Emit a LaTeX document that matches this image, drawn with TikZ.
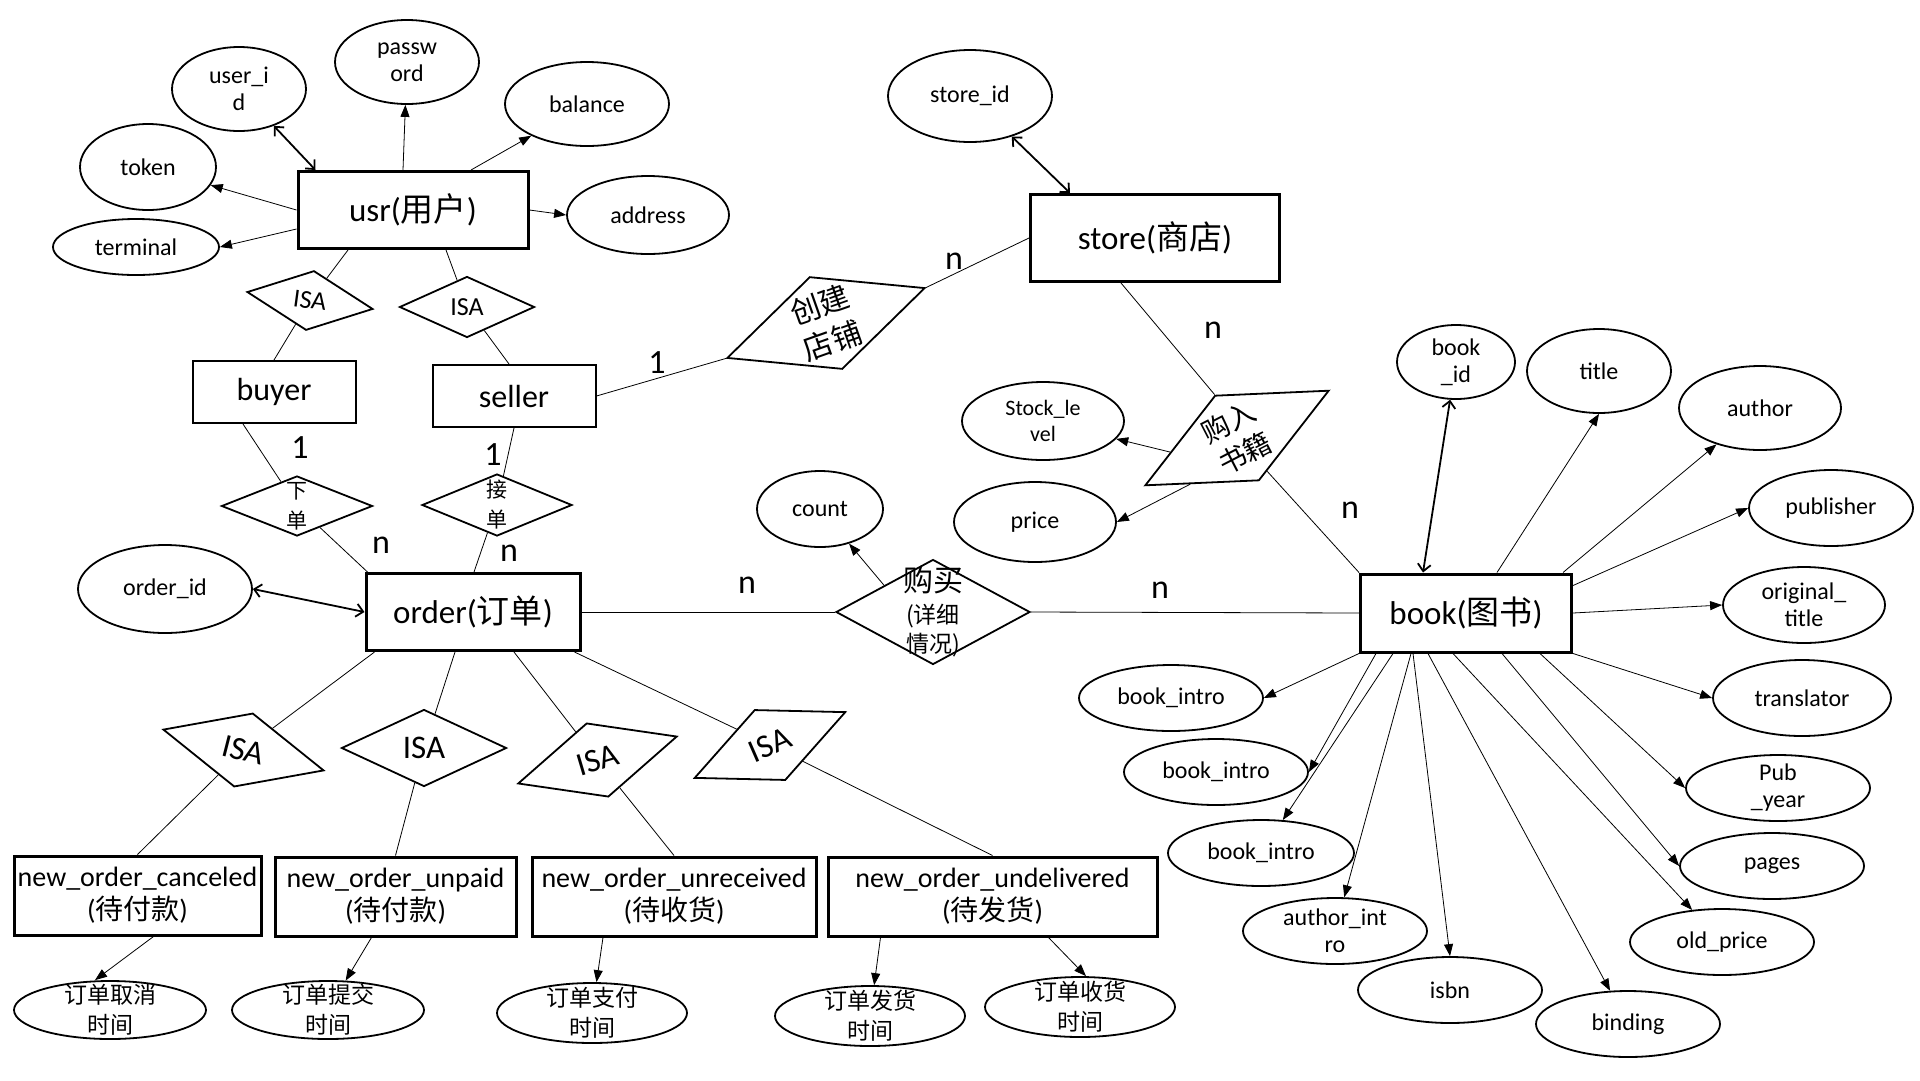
\documentclass[tikz,border=0pt]{standalone}
\usepackage{fontspec}
\setmainfont{Carlito}
\newfontfamily\cjk{Noto Sans CJK SC}
\usetikzlibrary{arrows.meta, shapes.geometric, calc}

\begin{document}
\begin{tikzpicture}[x=1pt, y=-1pt,
  entity/.style={draw, line width=3pt, inner sep=0pt, font=\fontsize{33}{36}\selectfont},
  weakent/.style={draw, line width=2pt, inner sep=0pt, font=\fontsize{32}{36}\selectfont},
  state/.style={draw, line width=3pt, inner sep=0pt, align=center, minimum height=79pt, font=\fontsize{28}{33}\selectfont},
  attr/.style={draw, ellipse, line width=1.8pt, inner sep=-10pt, align=center, font=\fontsize{24}{27}\selectfont},
  timeattr/.style={attr, font=\cjk\fontsize{23}{30}\selectfont},
  rel/.style={draw, diamond, line width=1.8pt, inner sep=-20pt, align=center},
  isa/.style={rel, font=\fontsize{26}{30}\selectfont},
  bigisa/.style={rel, font=\fontsize{33}{36}\selectfont},
  card/.style={inner sep=0pt, font=\fontsize{34}{36}\selectfont},
  link/.style={line width=0.8pt},
  toattr/.style={line width=0.8pt, -{Triangle[length=12pt,width=9pt]}},
  keylink/.style={line width=1.8pt, {Straight Barb[length=7pt,width=13pt]}-{Straight Barb[length=7pt,width=13pt]}}]

\useasboundingbox (0,0) rectangle (1920,1080);

\node[entity, minimum width=230pt, minimum height=77pt] (usr) at (413,210) {usr({\cjk 用户})};
\node[weakent, minimum width=163pt, minimum height=62pt] (buyer) at (274,392) {buyer};
\node[weakent, minimum width=163pt, minimum height=62pt] (seller) at (514,396) {seller};
\node[entity, minimum width=214pt, minimum height=77pt] (order) at (473,612) {order({\cjk 订单})};
\node[entity, minimum width=249pt, minimum height=87pt] (store) at (1155,238) {store({\cjk 商店})};
\node[entity, minimum width=211pt, minimum height=78pt] (book) at (1466,613) {book({\cjk 图书})};
\node[state, minimum width=247pt] (canceled) at (137.5,895.5) {new\_order\_canceled\\({\cjk 待付款})};
\node[state, minimum width=241pt] (unpaid) at (395.5,896.5) {new\_order\_unpaid\\({\cjk 待付款})};
\node[state, minimum width=284pt] (unreceived) at (674,896.5) {new\_order\_unreceived\\({\cjk 待收货})};
\node[state, minimum width=329pt] (undelivered) at (992.5,896.5) {new\_order\_undelivered\\({\cjk 待发货})};

\node[isa, minimum width=127pt, minimum height=60pt, rotate=-7.7] (isaU1) at (310,300.5) {ISA};
\node[isa, minimum width=135pt, minimum height=61pt] (isaU2) at (467,307) {ISA};
\node[rel, minimum width=151pt, minimum height=60pt, font=\cjk\fontsize{21}{30}\selectfont] (xiadan) at (297,506) {下\\单};
\node[rel, minimum width=150pt, minimum height=62pt, font=\cjk\fontsize{21}{30}\selectfont] (jiedan) at (497,505) {接\\单};
\node[rel, minimum width=210pt, minimum height=98pt, rotate=19.5, font=\cjk\fontsize{30}{38}\selectfont] (chuangjian) at (826,323) {创建\\店铺};
\node[rel, minimum width=207pt, minimum height=96pt, rotate=27.3, font=\cjk\fontsize{28}{35}\selectfont] (gouru) at (1237,438) {购入\\书籍};
\node[rel, minimum width=194pt, minimum height=105pt, font=\cjk\fontsize{23}{29}\selectfont] (goumai) at (933,612) {{\fontsize{30}{33}\selectfont 购买}\\[3pt](详细\\情况)};
\node[bigisa, minimum width=166pt, minimum height=76pt, rotate=-14.3] (isaO1) at (243.5,750) {ISA};
\node[bigisa, minimum width=165pt, minimum height=77pt] (isaO2) at (424,748) {ISA};
\node[bigisa, minimum width=166pt, minimum height=77pt, rotate=16.5] (isaO3) at (597.5,760) {ISA};
\node[bigisa, minimum width=165pt, minimum height=77pt, rotate=23.6] (isaO4) at (770,745) {ISA};

\node[attr, minimum width=134pt, minimum height=84pt] (userid) at (239,89) {user\_i\\d};
\node[attr, minimum width=144pt, minimum height=84pt] (passwd) at (407,62) {passw\\ord};
\node[attr, minimum width=164pt, minimum height=84pt] (balance) at (587,104) {balance};
\node[attr, minimum width=136pt, minimum height=86pt] (token) at (148,167) {token};
\node[attr, minimum width=166pt, minimum height=56pt] (terminal) at (136,247) {terminal};
\node[attr, minimum width=162pt, minimum height=78pt] (address) at (648,215) {address};
\node[attr, minimum width=174pt, minimum height=88pt] (orderid) at (165,589) {order\_id};
\node[attr, minimum width=164pt, minimum height=92pt] (storeid) at (970,96) {store\_id};
\node[attr, minimum width=162pt, minimum height=78pt, font=\fontsize{22}{26}\selectfont] (stocklv) at (1043,421) {Stock\_le\\vel};
\node[attr, minimum width=162pt, minimum height=80pt] (price) at (1035,522) {price};
\node[attr, minimum width=126pt, minimum height=76pt] (count) at (820,509) {count};
\node[attr, minimum width=118pt, minimum height=74pt] (bookid) at (1456,362) {book\\\_id};
\node[attr, minimum width=144pt, minimum height=84pt] (title) at (1599,371) {title};
\node[attr, minimum width=162pt, minimum height=84pt] (author) at (1760,408) {author};
\node[attr, minimum width=164pt, minimum height=76pt] (publisher) at (1831,508) {publisher};
\node[attr, minimum width=162pt, minimum height=76pt] (origtitle) at (1804,605) {original\_\\title};
\node[attr, minimum width=178pt, minimum height=76pt] (translator) at (1802,698) {translator};
\node[attr, minimum width=184pt, minimum height=66pt] (bintroA) at (1171,698) {book\_intro};
\node[attr, minimum width=184pt, minimum height=66pt] (bintroB) at (1216,772) {book\_intro};
\node[attr, minimum width=186pt, minimum height=66pt] (bintroC) at (1261,853) {book\_intro};
\node[attr, minimum width=184pt, minimum height=66pt] (authintro) at (1335,931) {author\_int\\ro};
\node[attr, minimum width=184pt, minimum height=66pt] (isbn) at (1450,990) {isbn};
\node[attr, minimum width=184pt, minimum height=66pt] (binding) at (1628,1024) {binding};
\node[attr, minimum width=184pt, minimum height=66pt] (oldprice) at (1722,942) {old\_price};
\node[attr, minimum width=184pt, minimum height=66pt] (pages) at (1772,866) {pages};
\node[attr, minimum width=184pt, minimum height=66pt] (pubyear) at (1778,788) {Pub\\\_year};
\node[timeattr, minimum width=192pt, minimum height=58pt] (t1) at (110,1010) {订单取消\\时间};
\node[timeattr, minimum width=192pt, minimum height=58pt] (t2) at (328,1010) {订单提交\\时间};
\node[timeattr, minimum width=190pt, minimum height=60pt] (t3) at (592,1013) {订单支付\\时间};
\node[timeattr, minimum width=190pt, minimum height=60pt] (t4) at (870,1016) {订单发货\\时间};
\node[timeattr, minimum width=190pt, minimum height=60pt] (t5) at (1080,1007) {订单收货\\时间};

\node[card] (cBuyer) at (300,448) {1};
\node[card] (cSeller) at (493,455) {1};
\node[card] (cXiadan) at (381,545) {n};
\node[card] (cJiedan) at (509,553) {n};
\node[card] (cShop) at (657,363) {1};
\node[card] (cStore) at (954,261) {n};
\node[card] (cStock) at (1213,330) {n};
\node[card] (cBought) at (1350,510) {n};
\node[card] (cOrder) at (747,585) {n};
\node[card] (cBook) at (1160,590) {n};

\draw[keylink] (userid) -- ([xshift=19pt]usr.north west);
\draw[toattr] ([xshift=-10pt]usr.north) -- (passwd);
\draw[toattr] ([xshift=58pt]usr.north) -- (balance);
\draw[toattr] (usr.west) -- (token);
\draw[toattr] ([yshift=-19pt]usr.west) -- (terminal.east);
\draw[toattr] (usr.east) -- (address.west);
\draw[link] ([xshift=-65pt]usr.south) -- (isaU1);
\draw[link] (isaU1) -- (buyer.north);
\draw[link] ([xshift=33pt]usr.south) -- (isaU2);
\draw[link] (isaU2) -- ([xshift=-5pt]seller.north);
\draw[link] ([xshift=-31pt]buyer.south) -- (xiadan);
\draw[link] (xiadan) -- ([xshift=3pt]order.north west);
\draw[link] (seller.south) -- (jiedan);
\draw[link] (jiedan) -- ([xshift=1pt]order.north);
\draw[link] (seller.east) -- (chuangjian.west);
\draw[link] (chuangjian.east) -- (store.west);
\draw[keylink] (storeid) -- ([xshift=41pt]store.north west);
\draw[link] ([xshift=-34pt]store.south) -- (gouru.north);
\draw[link] (gouru) -- (book.north west);
\draw[toattr] ($(gouru.west)!0.37!(gouru.north)$) -- (stocklv);
\draw[toattr] ($(gouru.west)!0.4!(gouru.south)$) -- (price.east);
\draw[keylink] (orderid.east) -- (order.west);
\draw[link] (order.east) -- (goumai.west);
\draw[link] (goumai.east) -- (book.west);
\draw[toattr] ($(goumai.west)!0.5!(goumai.north)$) -- (count);

\draw[keylink] (bookid) -- ([xshift=-43pt]book.north);
\draw[toattr] ([xshift=31pt]book.north) -- (title.south);
\draw[toattr] ([xshift=-10pt]book.north east) -- (author);
\draw[toattr] ([yshift=-13pt]book.north east) -- (publisher.west);
\draw[toattr] (book.east) -- (origtitle.west);
\draw[toattr] (book.south east) -- (translator.west);
\draw[toattr] ([xshift=181pt]book.south west) -- (pubyear.west);
\draw[toattr] ([xshift=143pt]book.south west) -- (pages.west);
\draw[toattr] ([xshift=94pt]book.south west) -- (oldprice);
\draw[toattr] ([xshift=69pt]book.south west) -- (binding);
\draw[toattr] ([xshift=54pt]book.south west) -- (isbn.north);
\draw[toattr] ([xshift=52pt]book.south west) -- (authintro);
\draw[toattr] ([xshift=34pt]book.south west) -- (bintroC);
\draw[toattr] ([xshift=17pt]book.south west) -- (bintroB.east);
\draw[toattr] (book.south west) -- (bintroA.east);

\draw[link] ([xshift=10pt]order.south west) -- (isaO1);
\draw[link] ([xshift=-18pt]order.south) -- (isaO2);
\draw[link] ([xshift=41pt]order.south) -- (isaO3);
\draw[link] ([xshift=-7pt]order.south east) -- (isaO4);
\draw[link] (isaO1) -- (canceled.north);
\draw[link] (isaO2) -- (unpaid.north);
\draw[link] (isaO3) -- (unreceived.north);
\draw[link] (isaO4) -- (undelivered.north);
\draw[toattr] ([xshift=16pt]canceled.south) -- ([xshift=-15pt]t1.north);
\draw[toattr] ([xshift=-24pt]unpaid.south) -- (t2);
\draw[toattr] ([xshift=-71pt]unreceived.south) -- (t3);
\draw[toattr] ([xshift=-112pt]undelivered.south) -- (t4);
\draw[toattr] ([xshift=56pt]undelivered.south) -- ([xshift=6pt]t5.north);
\end{tikzpicture}
\end{document}
